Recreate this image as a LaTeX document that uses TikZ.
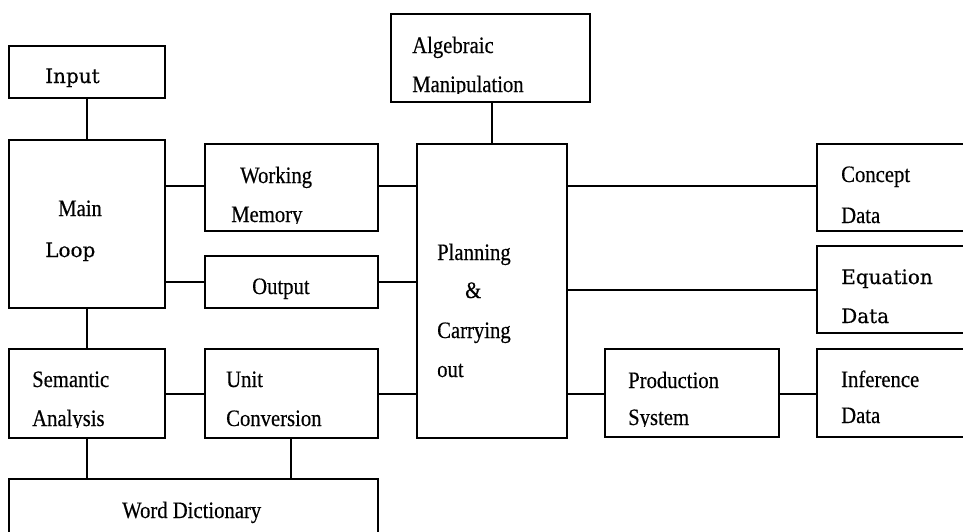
\documentclass[tikz,border=0pt]{standalone}
\usepackage{fontspec}
\setmainfont{Liberation Serif}
\newfontfamily\narrowfont[FakeStretch=0.88,FakeBold=0.4]{Liberation Serif}
\newfontfamily\widefont[FakeBold=0.4]{DejaVu Serif}
\begin{document}
\begin{tikzpicture}[x=1pt,y=-1pt,
  box/.style={draw,line width=1.3pt,inner sep=0pt,rectangle},
  wire/.style={line width=1.3pt},
  lbl/.style={anchor=base west,inner sep=0pt,font=\narrowfont\fontsize{23.5}{27}\selectfont},
  wlbl/.style={anchor=base west,inner sep=0pt,font=\widefont\fontsize{20}{24}\selectfont}]
\useasboundingbox (0,0) rectangle (963,531);

% boxes, given by their corners
\newcommand{\blk}[5]{\node[box,minimum width={(#4-#2)*1pt},minimum height={(#5-#3)*1pt}] (#1) at ({(#2+#4)/2},{(#3+#5)/2}) {};}
\blk{input}{9}{46}{165}{98}
\blk{alg}{391}{14}{590}{102}
\blk{main}{9}{140}{165}{308}
\blk{wm}{205}{144}{378}{231}
\blk{out}{205}{256}{378}{308}
\blk{plan}{417}{144}{567}{438}
\blk{concept}{817}{144}{985}{231}
\blk{equ}{817}{246}{985}{333}
\blk{sem}{9}{349}{165}{438}
\blk{unit}{205}{349}{378}{438}
\blk{prod}{605}{349}{779}{437}
\blk{inf}{817}{349}{985}{437}
\blk{word}{9}{479}{378}{550}

% levels of the horizontal wires
\coordinate (r1) at (0,186);
\coordinate (r2) at (0,282);
\coordinate (r3) at (0,290);
\coordinate (r4) at (0,394);
\coordinate (cu) at (291,0);

% connectors
\draw[wire] (input.south) -- (main.north);
\draw[wire] (main.south) -- (sem.north);
\draw[wire] (sem.south) -- (word.north -| sem.south);
\draw[wire] (unit.south -| cu) -- (word.north -| cu);
\draw[wire] (alg.south -| plan.north) -- (plan.north);
\draw[wire] (main.east |- r1) -- (wm.west |- r1);
\draw[wire] (wm.east |- r1) -- (plan.west |- r1);
\draw[wire] (plan.east |- r1) -- (concept.west |- r1);
\draw[wire] (main.east |- r2) -- (out.west |- r2);
\draw[wire] (out.east |- r2) -- (plan.west |- r2);
\draw[wire] (plan.east |- r3) -- (equ.west |- r3);
\draw[wire] (sem.east |- r4) -- (unit.west |- r4);
\draw[wire] (unit.east |- r4) -- (plan.west |- r4);
\draw[wire] (plan.east |- r4) -- (prod.west |- r4);
\draw[wire] (prod.east |- r4) -- (inf.west |- r4);

% labels
\node[wlbl] (tInput) at (45,83) {Input};
\node[lbl] (tAlg) at (412,53) {Algebraic};
\begin{scope}\clip (400,60) rectangle (585,93);
\node[lbl] (tMan) at (412,92) {Manipulation};\end{scope}
\node[lbl] (tWork) at (240,183) {Working};
\begin{scope}\clip (210,195) rectangle (370,223);
\node[lbl] (tMem) at (231,222) {Memory};\end{scope}
\node[lbl] (tMain) at (58,216) {Main};
\node[wlbl] (tLoop) at (45,257) {Loop};
\node[lbl] (tOut) at (252,294) {Output};
\node[lbl] (tSem) at (32,387) {Semantic};
\begin{scope}\clip (15,400) rectangle (160,427);
\node[lbl] (tAna) at (32,426) {Analysis};\end{scope}
\node[lbl] (tUnit) at (226,387) {Unit};
\node[lbl] (tConv) at (226,426) {Conversion};
\node[lbl] (tWord) at (122,518) {Word Dictionary};
\node[lbl] (tPlan) at (437,260) {Planning};
\node[lbl] (tAmp) at (465,298) {\&};
\node[lbl] (tCarr) at (437,338) {Carrying};
\node[lbl] (tOutw) at (437,377) {out};
\node[lbl] (tProd) at (628,388) {Production};
\begin{scope}\clip (610,400) rectangle (775,426);
\node[lbl] (tSys) at (628,425) {System};\end{scope}
\node[lbl] (tConc) at (841,182) {Concept};
\node[lbl] (tCData) at (841,223) {Data};
\node[wlbl] (tEqu) at (841,284) {Equation};
\node[wlbl] (tEData) at (841,323) {Data};
\node[lbl] (tInf) at (841,387) {Inference};
\node[lbl] (tIData) at (841,423) {Data};
\end{tikzpicture}
\end{document}
